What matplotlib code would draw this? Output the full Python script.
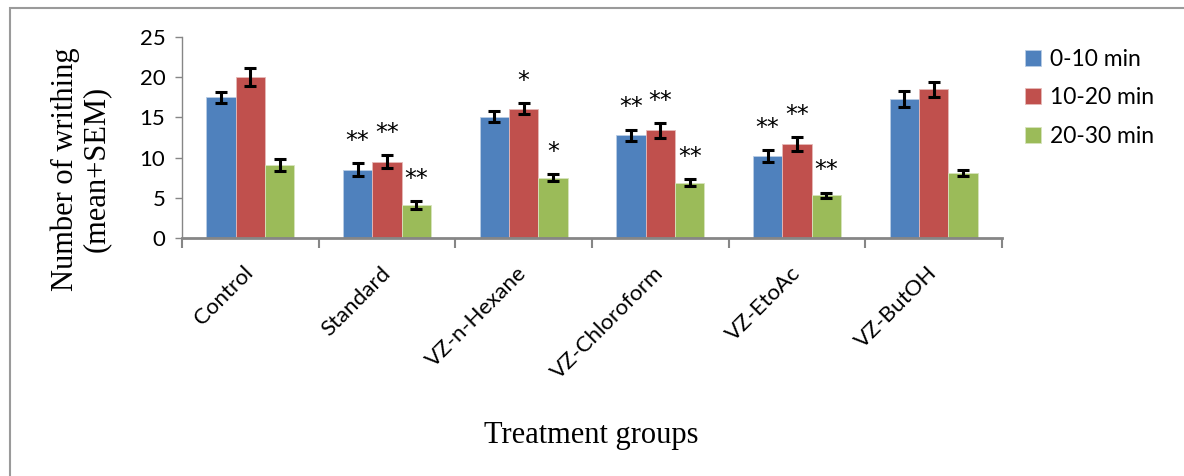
import numpy as np
import matplotlib
matplotlib.use('Agg')
import matplotlib.pyplot as plt
from matplotlib.patches import Rectangle
from matplotlib.transforms import ScaledTranslation

groups = ['Control', 'Standard', 'VZ-n-Hexane', 'VZ-Chloroform', 'VZ-EtoAc', 'VZ-ButOH']
series = ['0-10 min', '10-20 min', '20-30 min']
mean_0_10 = [17.5, 8.5, 15.1, 12.8, 10.2, 17.3]
mean_10_20 = [20.0, 9.5, 16.1, 13.4, 11.7, 18.5]
mean_20_30 = [9.1, 4.1, 7.5, 6.9, 5.3, 8.1]
sem_0_10 = [0.7, 0.8, 0.7, 0.7, 0.7, 1.0]
sem_10_20 = [1.1, 0.8, 0.7, 0.9, 0.85, 0.9]
sem_20_30 = [0.7, 0.5, 0.45, 0.45, 0.35, 0.35]
stars_0_10 = ['', '**', '', '**', '**', '']
stars_10_20 = ['', '**', '*', '**', '**', '']
stars_20_30 = ['', '**', '*', '**', '**', '']

colors = ['#4F81BD', '#C0504D', '#9BBB59']
edges = ['#B9CDE5', '#E6B9B8', '#D7E4BD']
grey = '#868686'

fig = plt.figure(figsize=(11.84, 4.76), dpi=100)
ax = fig.add_axes([182/1184, 0.5, 820/1184, 0.422])

x = np.arange(len(groups))
w = 0.215
means = [mean_0_10, mean_10_20, mean_20_30]
sems = [sem_0_10, sem_10_20, sem_20_30]
stars = [stars_0_10, stars_10_20, stars_20_30]
for i in range(3):
    xs = x + (i - 1) * w
    ax.bar(xs, means[i], w, color=colors[i], edgecolor=edges[i], linewidth=0.6,
           label=series[i], zorder=2)
    ax.errorbar(xs, means[i], yerr=sems[i], fmt='none', ecolor='black',
                elinewidth=2.2, capsize=4, capthick=2.2, zorder=3)
    for xi, m, s, st in zip(xs, means[i], sems[i], stars[i]):
        if st:
            ax.annotate(st, (xi, m + s), xytext=(0, 16), textcoords='offset points',
                        ha='center', va='center', fontsize=17, family='DejaVu Sans')

ax.set_xlim(-0.5, len(groups) - 0.5)
ax.set_ylim(0, 25)
ax.set_yticks([0, 5, 10, 15, 20, 25])
ax.set_xticks(np.arange(-0.5, len(groups)), minor=False)
ax.set_xticklabels([])
ax.set_xticks(x, minor=True)
ax.set_xticklabels(groups, minor=True, rotation=45, ha='right', va='center',
                   rotation_mode='anchor', fontsize=16, family='Lato')
shift = ScaledTranslation(6/72, 0, fig.dpi_scale_trans)
for lab in ax.get_xticklabels(minor=True):
    lab.set_transform(lab.get_transform() + shift)
ax.tick_params(axis='x', which='minor', length=0, pad=23)
ax.tick_params(axis='x', which='major', length=7, width=1.5, color=grey)
ax.tick_params(axis='y', length=5, width=1, color=grey, labelsize=16, pad=7)
for lab in ax.get_yticklabels():
    lab.set_family('Lato')

for side in ['top', 'right']:
    ax.spines[side].set_visible(False)
ax.spines['left'].set_color(grey)
ax.spines['left'].set_linewidth(1)
ax.spines['bottom'].set_color(grey)
ax.spines['bottom'].set_linewidth(2)

fig.text(0.068, 0.645, 'Number of writhing\n(mean+SEM)', rotation=90, ha='center', va='center',
         fontsize=22, family='Liberation Serif', linespacing=1.1)
fig.text(591/1184, 0.086, 'Treatment groups', ha='center', va='center',
         fontsize=22, family='Liberation Serif')

fig.legend(loc='upper left', bbox_to_anchor=(1004/1184, 1 - 28/476), frameon=False,
           prop={'family': 'Lato', 'size': 16.5}, handlelength=0.7, handleheight=0.7,
           handletextpad=0.4, labelspacing=0.78)

fig.patches.append(Rectangle((10/1184, -0.1), 1.2, 1.1 - 8/476, transform=fig.transFigure,
                             fill=False, edgecolor='#9a9a9a', linewidth=1.5))

fig.savefig('out.png', dpi=100, facecolor='white')
